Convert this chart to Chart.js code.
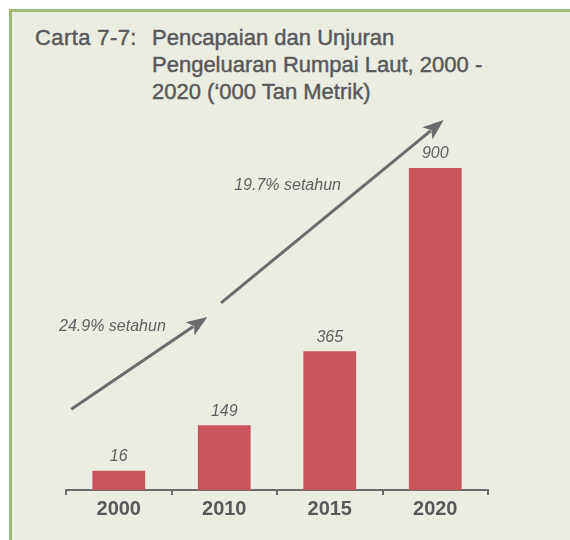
<!DOCTYPE html>
<html>
<head>
<meta charset="utf-8">
<script src="https://cdn.jsdelivr.net/npm/chart.js@4.4.0/dist/chart.umd.min.js"></script>
<style>
body { margin: 0; background: #fff; }
#marco {
    position: absolute; left: 9px; top: 9px; width: 561px; height: 531px;
    background: #ebede3; border-left: 3px solid #9ebb72; border-top: 3px solid #9ebb72;
    box-sizing: border-box;
}
.titulo {
    position: absolute; top: 24px; font-family: 'Liberation Sans', Arial, sans-serif;
    font-size: 22px; line-height: 27px; color: #58585b; white-space: nowrap;
    -webkit-text-stroke: 0.45px #58585b;
}
#etiqueta { left: 35px; letter-spacing: 0.4px; }
#texto { left: 152px; }
canvas { position: absolute; left: 0; top: 0; }
</style>
</head>
<body>
<div id="marco"></div>
<div class="titulo" id="etiqueta">Carta 7-7:</div>
<div class="titulo" id="texto">Pencapaian dan Unjuran<br>Pengeluaran Rumpai Laut, 2000 -<br>2020 (‘000 Tan Metrik)</div>
<canvas id="grafico" width="570" height="540"></canvas>
<script>
var tahun = ['2000', '2010', '2015', '2020'];
var pengeluaran = [16, 149, 365, 900];
var kadar = ['24.9% setahun', '19.7% setahun'];

// anak panah dan teks pertumbuhan, dalam unit data (indeks kategori, nilai)
var panah = [
    { dari: [-0.45, 196], ke: [0.84, 465] },
    { dari: [0.97, 506], ke: [3.08, 1040] }
];
var posKadar = [[-0.06, 436], [1.6, 850]];

var abu = '#6b6b6e';
var fuente = "'Liberation Sans', Arial, sans-serif";

const extras = {
    id: 'extras',
    afterDatasetsDraw(chart) {
        const ctx = chart.ctx;
        const x = chart.scales.x, y = chart.scales.y;
        ctx.save();

        // nilai atas bar
        ctx.fillStyle = '#606063';
        ctx.font = 'italic 16px ' + fuente;
        ctx.textAlign = 'center';
        ctx.textBaseline = 'bottom';
        chart.getDatasetMeta(0).data.forEach((bar, i) => {
            ctx.fillText(pengeluaran[i], bar.x, bar.y - 6);
        });

        // anak panah
        ctx.strokeStyle = abu;
        ctx.fillStyle = abu;
        ctx.lineWidth = 3;
        panah.forEach(p => {
            let x1 = x.getPixelForValue(p.dari[0]), y1 = y.getPixelForValue(p.dari[1]);
            let x2 = x.getPixelForValue(p.ke[0]), y2 = y.getPixelForValue(p.ke[1]);
            let ang = Math.atan2(y2 - y1, x2 - x1);
            let largo = 21, ancho = 8;
            let bx = x2 - largo * Math.cos(ang), by = y2 - largo * Math.sin(ang);
            ctx.beginPath();
            ctx.moveTo(x1, y1);
            ctx.lineTo(bx + 4 * Math.cos(ang), by + 4 * Math.sin(ang));
            ctx.stroke();
            ctx.beginPath();
            ctx.moveTo(x2, y2);
            ctx.lineTo(bx + ancho * Math.sin(ang), by - ancho * Math.cos(ang));
            ctx.lineTo(bx + 5 * Math.cos(ang), by + 5 * Math.sin(ang));
            ctx.lineTo(bx - ancho * Math.sin(ang), by + ancho * Math.cos(ang));
            ctx.closePath();
            ctx.fill();
        });

        // teks kadar pertumbuhan
        ctx.fillStyle = '#606063';
        ctx.font = 'italic 16px ' + fuente;
        ctx.textBaseline = 'middle';
        kadar.forEach((t, i) => {
            ctx.fillText(t, x.getPixelForValue(posKadar[i][0]), y.getPixelForValue(posKadar[i][1]));
        });
        ctx.restore();
    }
};

const ctx = document.getElementById('grafico');
let grafico = new Chart(ctx, {
    type: 'bar',
    data: {
        labels: tahun,
        datasets: [{
            data: pengeluaran,
            backgroundColor: '#c9545c',
            barPercentage: 0.5,
            categoryPercentage: 1,
            base: -40
        }]
    },
    options: {
        responsive: false,
        animation: false,
        layout: { padding: { left: 66, right: 82, top: 120, bottom: 0 } },
        plugins: { legend: { display: false }, tooltip: { enabled: false } },
        scales: {
            x: {
                grid: { offset: true, drawOnChartArea: false, tickLength: 5, color: abu, lineWidth: 2 },
                border: { color: abu, width: 2 },
                ticks: { color: '#58585b', padding: 2, font: { family: fuente, size: 20, weight: 'bold' } },
                afterFit: s => { s.height = 50; }
            },
            y: {
                display: false,
                min: -40,
                max: 1040
            }
        }
    },
    plugins: [extras]
});
</script>
</body>
</html>
